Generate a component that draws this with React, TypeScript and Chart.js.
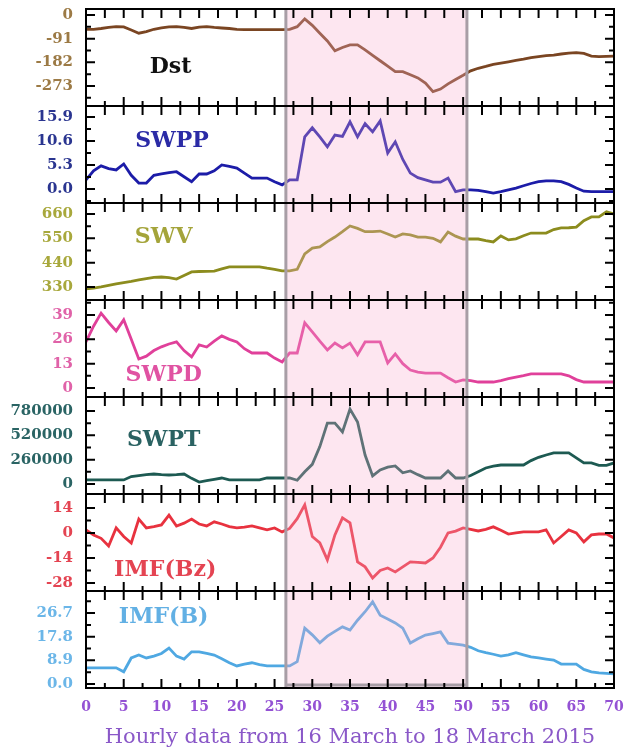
import React, { useEffect, useRef } from 'react';
import { Chart, registerables } from 'chart.js';

Chart.register(...registerables);

// ---------- data ----------
const hours = Array.from({ length: 71 }, (_, i) => i); // hourly categories 0..70
const xTickValues = [0, 5, 10, 15, 20, 25, 30, 35, 40, 45, 50, 55, 60, 65, 70];
const stormStart = 26.5;
const stormEnd = 50.5;

const dst = [-55, -55, -52, -48, -45, -46, -58, -70, -64, -55,
  -50, -46, -45, -48, -52, -47, -45, -48, -50, -52,
  -55, -56, -56, -56, -56, -56, -56, -55, -45, -15,
  -40, -70, -100, -138, -125, -115, -115, -134, -155, -176,
  -197, -218, -218, -230, -242, -262, -295, -285, -265, -248,
  -232, -215, -205, -198, -190, -185, -180, -175, -170, -164,
  -160, -156, -154, -150, -147, -145, -148, -158, -160, -159,
  -158];
const swpp = [2.0, 4.0, 5.1, 4.5, 4.2, 5.5, 3.0, 1.3, 1.3, 3.0,
  3.3, 3.6, 3.8, 2.7, 1.6, 3.3, 3.3, 4.0, 5.3, 5.0,
  4.6, 3.5, 2.4, 2.4, 2.4, 1.6, 0.9, 2.0, 2.0, 11.5,
  13.5, 11.5, 9.3, 11.9, 11.6, 14.8, 11.5, 14.4, 12.6, 15.0,
  7.9, 10.4, 6.5, 3.5, 2.5, 2.0, 1.5, 1.5, 2.4, -0.6,
  -0.2, -0.2, -0.3, -0.6, -0.9, -0.6, -0.2, 0.2, 0.7, 1.2,
  1.6, 1.8, 1.8, 1.6, 1.0, 0.2, -0.5, -0.6, -0.6, -0.6,
  -0.6];
const swv = [321, 325, 330, 337, 344, 350, 355, 362, 368, 373,
  375, 372, 366, 382, 398, 400, 401, 402, 412, 421,
  421, 421, 421, 421, 415, 410, 403, 403, 410, 480,
  506, 511, 535, 556, 580, 606, 595, 580, 580, 583,
  570, 556, 570, 566, 556, 556, 550, 534, 579, 560,
  547, 547, 547, 540, 534, 561, 543, 548, 562, 574,
  574, 574, 590, 597, 598, 601, 630, 647, 647, 670,
  660];
const swpd = [24.6, 33, 40, 35, 30.5, 36.4, 26, 15.5, 17, 20,
  22, 23.5, 24.6, 20, 16.6, 23, 21.9, 25, 27.8, 26,
  24.6, 21, 18.7, 18.7, 18.7, 16, 13.9, 18.7, 18.7, 34.8,
  30, 25, 20.3, 24, 21.4, 24, 17.7, 24.6, 24.6, 24.6,
  13.4, 18.2, 13, 9.6, 8.5, 8, 8, 8, 5.5, 3.2,
  4.3, 4.0, 3.2, 3.2, 3.2, 4.0, 5.0, 5.8, 6.6, 7.5,
  7.5, 7.5, 7.5, 7.5, 6.5, 4.5, 3.2, 3.2, 3.2, 3.2,
  3.2];
const swpt = [43000, 43000, 43000, 43000, 43000, 43000, 80000, 90000, 100000, 107000,
  100000, 96000, 100000, 107000, 60000, 21000, 35000, 50000, 64000, 45000,
  43000, 43000, 43000, 43000, 64000, 64000, 64000, 64000, 40000, 130000,
  210000, 400000, 650000, 650000, 556000, 800000, 663000, 310000, 86000, 150000,
  180000, 193000, 120000, 139000, 100000, 64000, 64000, 64000, 139000, 64000,
  64000, 90000, 130000, 171000, 190000, 203000, 203000, 203000, 203000, 250000,
  285000, 310000, 332000, 332000, 332000, 280000, 225000, 225000, 200000, 200000,
  225000];
const imfBz = [1.7, -1.1, -3, -7.3, 2.8, -2, -5.6, 7.8, 2.8, 3.5,
  4.5, 10, 3.9, 5.5, 7.8, 5, 3.9, 6.2, 5, 3.5,
  2.8, 3.2, 3.9, 2.8, 1.7, 2.8, 0.6, 2.5, 8, 15.7,
  -2, -5.6, -15.1, -1.1, 8.4, 5.6, -16.2, -19, -25.2, -21,
  -19.6, -21.8, -19, -16.2, -16.5, -16.8, -14, -8, 0, 1,
  2.8, 2, 1.1, 2, 3.4, 1.5, -0.6, 0, 0.6, 0.6,
  0.6, 1.7, -5.6, -2, 1.7, 0, -5, -1.1, -0.6, -0.6,
  -2.8];
const imfB = [6.1, 6.1, 6.1, 6.1, 6.1, 4.6, 9.8, 10.9, 9.8, 10.5,
  11.5, 13.5, 10.5, 9.4, 12.1, 12.1, 11.5, 10.9, 9.5, 8,
  6.8, 7.5, 8.0, 7.3, 6.8, 6.8, 6.8, 6.8, 8.4, 21.0,
  18.5, 15.5, 18, 19.8, 21.5, 20.3, 24, 27.2, 30.9, 25.9,
  24.5, 23, 21, 15.4, 17, 18.4, 19, 19.6, 15.4, 15,
  14.6, 13.8, 12.5, 11.8, 11.2, 10.5, 11, 11.8, 11, 10.2,
  9.8, 9.4, 9.0, 7.5, 7.5, 7.5, 5.5, 4.6, 4.2, 4.0,
  3.8];

const dstTicks = ['0', '-91', '-182', '-273'];
const swppTicks = ['15.9', '10.6', '5.3', '0.0'];
const swvTicks = ['660', '550', '440', '330'];
const swpdTicks = ['39', '26', '13', '0'];
const swptTicks = ['780000', '520000', '260000', '0'];
const bzTicks = ['14', '0', '-14', '-28'];
const bTicks = ['26.7', '17.8', '8.9', '0.0'];

const xTitle = 'Hourly data from 16 March to 18 March 2015';

// ---------- panel styling ----------
const panels = [
  { id: 'yDst', name: 'Dst', data: dst, ticks: dstTicks, min: -350, max: 23, line: '#7a4522', tick: '#9c7a45', label: '#111111', at: [11.2, -200] },
  { id: 'ySwpp', name: 'SWPP', data: swpp, ticks: swppTicks, min: -3.1, max: 18.3, line: '#1c1ca8', tick: '#2a3590', label: '#2b2ba6', at: [11.4, 10.6] },
  { id: 'ySwv', name: 'SWV', data: swv, ticks: swvTicks, min: 271, max: 710, line: '#8c8c1e', tick: '#a8a83c', label: '#a4a43a', at: [10.3, 556] },
  { id: 'ySwpd', name: 'SWPD', data: swpd, ticks: swpdTicks, min: -4.8, max: 47, line: '#e0409a', tick: '#e062a8', label: '#e052a2', at: [10.3, 6.9] },
  { id: 'ySwpt', name: 'SWPT', data: swpt, ticks: swptTicks, min: -107000, max: 930000, line: '#1d5a52', tick: '#2a6464', label: '#2a6262', at: [10.3, 470000] },
  { id: 'yBz', name: 'IMF(Bz)', data: imfBz, ticks: bzTicks, min: -32.5, max: 21.8, line: '#e8323f', tick: '#e44452', label: '#e44452', at: [10.5, -20.7] },
  { id: 'yB', name: 'IMF(B)', data: imfB, ticks: bTicks, min: -1.5, max: 35, line: '#4fa8e2', tick: '#6bb6e8', label: '#62b0e4', at: [10.3, 25.2] },
];

const tickFont = { family: 'DejaVu Serif', weight: 'bold' as const, size: 15, lineHeight: 1 };

const overlayPlugin = {
  id: 'panelsOverlay',
  afterDatasetsDraw(chart: any) {
    const { ctx, chartArea, scales } = chart;
    const xs = scales.x;
    const left = chartArea.left;
    const right = chartArea.right;
    ctx.save();

    // storm shading drawn over the lines
    const sx = xs.getPixelForValue(stormStart);
    const ex = xs.getPixelForValue(stormEnd);
    ctx.fillStyle = 'rgba(248,172,205,0.3)';
    ctx.fillRect(sx, chartArea.top, ex - sx, chartArea.bottom - chartArea.top);
    ctx.strokeStyle = '#a89ea6';
    ctx.lineWidth = 3;
    ctx.beginPath();
    ctx.moveTo(sx, chartArea.top);
    ctx.lineTo(sx, chartArea.bottom);
    ctx.moveTo(ex, chartArea.top);
    ctx.lineTo(ex, chartArea.bottom);
    ctx.moveTo(sx, chartArea.bottom - 3);
    ctx.lineTo(ex, chartArea.bottom - 3);
    ctx.stroke();

    // frames, inward ticks, panel names
    panels.forEach((p) => {
      const ys = scales[p.id];
      const top = ys.top;
      const bottom = ys.bottom;
      ctx.strokeStyle = '#000';
      ctx.lineWidth = 2;
      ctx.strokeRect(left, top, right - left, bottom - top);

      const vals = p.ticks.map((t) => parseFloat(t));
      const step = vals[0] - vals[1];
      ctx.lineWidth = 2;
      ctx.beginPath();
      vals.forEach((v) => {
        const y = ys.getPixelForValue(v);
        ctx.moveTo(left, y); ctx.lineTo(left + 9, y);
        ctx.moveTo(right, y); ctx.lineTo(right - 9, y);
      });
      for (let v = vals[0] + step / 2; v > p.min; v -= step) {
        if (v >= p.max) continue;
        const y = ys.getPixelForValue(v);
        if (y <= top + 2 || y >= bottom - 2) continue;
        ctx.moveTo(left, y); ctx.lineTo(left + 5, y);
        ctx.moveTo(right, y); ctx.lineTo(right - 5, y);
      }
      for (let h = 0; h <= 70; h += 2.5) {
        const x = xs.getPixelForValue(h);
        if (x <= left + 1 || x >= right - 1) continue;
        const len = h % 5 === 0 ? 9 : 5;
        ctx.moveTo(x, bottom); ctx.lineTo(x, bottom - len);
        ctx.moveTo(x, top); ctx.lineTo(x, top + 9);
      }
      ctx.stroke();

      ctx.fillStyle = p.label;
      ctx.font = 'bold 22px "DejaVu Serif"';
      ctx.textAlign = 'center';
      ctx.textBaseline = 'middle';
      ctx.fillText(p.name, xs.getPixelForValue(p.at[0]), ys.getPixelForValue(p.at[1]));
    });
    ctx.restore();
  },
};

export default function App() {
  const canvasRef = useRef<HTMLCanvasElement | null>(null);

  useEffect(() => {
    document.body.style.margin = '0';
    const canvas = canvasRef.current;
    if (!canvas) return;

    const scales: any = {
      x: {
        type: 'linear',
        position: 'bottom',
        min: 0,
        max: 70,
        grid: { display: false, drawTicks: false },
        border: { display: false },
        afterBuildTicks: (scale: any) => {
          scale.ticks = xTickValues.map((v) => ({ value: v }));
        },
        afterFit: (scale: any) => {
          scale.height = 67;
          scale.paddingLeft = 0;
          scale.paddingRight = 0;
        },
        ticks: {
          color: '#9452d4',
          font: { family: 'DejaVu Serif', weight: 'bold', size: 14 },
          padding: 11,
          maxRotation: 0,
          autoSkip: false,
        },
        title: {
          display: true,
          text: xTitle,
          color: '#8a58c8',
          font: { family: 'DejaVu Serif', size: 21, weight: 'normal' },
          padding: { top: 0, bottom: 5 },
        },
      },
    };

    panels.forEach((p, i) => {
      const labels = p.ticks;
      scales[p.id] = {
        type: 'linear',
        position: 'left',
        stack: 'panels',
        stackWeight: 1,
        weight: panels.length - i,
        offset: false,
        min: p.min,
        max: p.max,
        grid: { display: false, drawTicks: false },
        border: { display: false },
        afterBuildTicks: (scale: any) => {
          scale.ticks = labels.map((t) => ({ value: parseFloat(t) }));
        },
        afterFit: (scale: any) => {
          scale.width = 78;
          scale.paddingTop = 0;
          scale.paddingBottom = 0;
        },
        ticks: {
          color: p.tick,
          font: tickFont,
          padding: 13,
          autoSkip: false,
          callback: (value: any) => {
            const idx = labels.findIndex((t) => parseFloat(t) === value);
            return idx >= 0 ? labels[idx] : '';
          },
        },
      };
    });

    const chart = new Chart(canvas, {
      type: 'line',
      data: {
        labels: hours,
        datasets: panels.map((p) => ({
          label: p.name,
          data: p.data.map((v, i) => ({ x: hours[i], y: v })),
          xAxisID: 'x',
          yAxisID: p.id,
          borderColor: p.line,
          borderWidth: 2.8,
          pointRadius: 0,
          tension: 0,
          fill: false,
        })),
      },
      options: {
        responsive: false,
        animation: false,
        layout: { padding: { left: 8, right: 11, top: 9, bottom: 0 } },
        plugins: { legend: { display: false }, tooltip: { enabled: false } },
        scales,
      },
      plugins: [overlayPlugin],
    });

    return () => chart.destroy();
  }, []);

  return (
    <div style={{ width: 625, height: 755, background: '#fff' }}>
      <canvas ref={canvasRef} width={625} height={755} style={{ display: 'block', width: 625, height: 755 }} />
    </div>
  );
}
